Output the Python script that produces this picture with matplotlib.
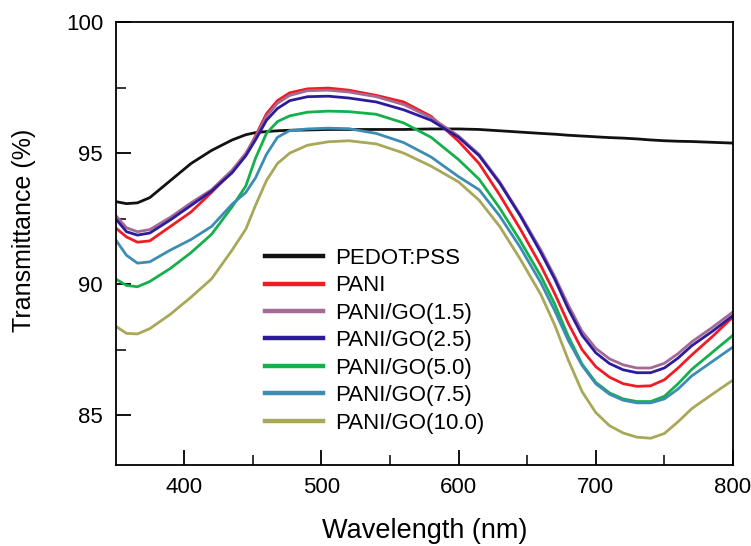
import numpy as np
import matplotlib
matplotlib.use("Agg")
import matplotlib.pyplot as plt

plt.rcParams['font.family'] = ['Liberation Sans', 'DejaVu Sans']

# wavelength grid (nm) used for all spectra
wl = [350, 358, 366, 375, 390, 405, 420, 435, 445, 452, 460, 468, 477, 490,
      505, 520, 540, 560, 580, 600, 615, 630, 645, 660, 670, 680, 690, 700,
      710, 720, 730, 740, 750, 760, 770, 785, 800]

# transmittance (%)
pedot = [93.15, 93.07, 93.1, 93.3, 93.95, 94.6, 95.1, 95.5, 95.7, 95.78, 95.82,
         95.85, 95.87, 95.88, 95.9, 95.9, 95.9, 95.9, 95.92, 95.92, 95.9, 95.85,
         95.8, 95.75, 95.72, 95.68, 95.65, 95.62, 95.59, 95.57, 95.54, 95.5,
         95.47, 95.45, 95.44, 95.41, 95.38]
pani = [92.15, 91.8, 91.6, 91.65, 92.2, 92.75, 93.5, 94.3, 94.95, 95.65, 96.5,
        97.0, 97.3, 97.45, 97.48, 97.4, 97.2, 96.95, 96.4, 95.45, 94.6, 93.4,
        92.1, 90.7, 89.65, 88.5, 87.5, 86.85, 86.45, 86.2, 86.1, 86.12, 86.35,
        86.8, 87.3, 88.0, 88.75]
go15 = [92.63, 92.15, 92.0, 92.08, 92.55, 93.1, 93.6, 94.35, 95.0, 95.6, 96.4,
        96.9, 97.2, 97.38, 97.4, 97.33, 97.15, 96.85, 96.35, 95.65, 94.95, 93.9,
        92.65, 91.3, 90.3, 89.2, 88.2, 87.55, 87.15, 86.92, 86.8, 86.8, 86.98,
        87.35, 87.8, 88.35, 88.94]
go25 = [92.5, 92.0, 91.87, 91.95, 92.45, 93.0, 93.55, 94.25, 94.9, 95.5, 96.25,
        96.7, 97.0, 97.15, 97.17, 97.1, 96.95, 96.65, 96.25, 95.6, 94.9, 93.85,
        92.6, 91.2, 90.2, 89.05, 88.05, 87.38, 86.97, 86.73, 86.62, 86.62, 86.8,
        87.18, 87.65, 88.2, 88.8]
go50 = [90.2, 89.95, 89.9, 90.1, 90.6, 91.2, 91.9, 92.95, 93.75, 94.8, 95.75,
        96.2, 96.42, 96.56, 96.6, 96.58, 96.48, 96.15, 95.6, 94.75, 94.0, 92.9,
        91.65, 90.3, 89.25, 88.0, 86.95, 86.25, 85.85, 85.62, 85.52, 85.52,
        85.72, 86.2, 86.75, 87.4, 88.05]
go75 = [91.7, 91.1, 90.8, 90.85, 91.3, 91.7, 92.2, 93.05, 93.5, 94.05, 94.95,
        95.6, 95.86, 95.92, 95.95, 95.93, 95.75, 95.4, 94.85, 94.1, 93.6, 92.6,
        91.4, 90.05, 89.0, 87.85, 86.9, 86.2, 85.8, 85.57, 85.47, 85.47, 85.62,
        86.0, 86.5, 87.05, 87.6]
go100 = [88.4, 88.12, 88.1, 88.3, 88.85, 89.5, 90.2, 91.3, 92.1, 93.0, 93.95,
         94.6, 95.0, 95.3, 95.43, 95.47, 95.35, 95.0, 94.5, 93.9, 93.2, 92.2,
         90.95, 89.6, 88.45, 87.1, 85.9, 85.1, 84.6, 84.32, 84.16, 84.12, 84.3,
         84.75, 85.25, 85.8, 86.34]

labels = ['PEDOT:PSS', 'PANI', 'PANI/GO(1.5)', 'PANI/GO(2.5)', 'PANI/GO(5.0)',
          'PANI/GO(7.5)', 'PANI/GO(10.0)']
colors = ['#111111', '#f01c24', '#a46a94', '#2c1c9c', '#14b04c', '#3c8cb4', '#a8a858']
series = [pedot, pani, go15, go25, go50, go75, go100]

fig = plt.figure(figsize=(7.51, 5.46), dpi=100)
ax = fig.add_axes([0.1538, 0.1484, 0.8222, 0.8113])

for y, c, lab in zip(series, colors, labels):
    ax.plot(wl, y, color=c, lw=2.0, label=lab)

ax.set_xlim(350, 800)
ax.set_ylim(83.1, 100)
ax.set_xticks([400, 500, 600, 700, 800])
ax.set_xticks([450, 550, 650, 750], minor=True)
ax.set_yticks([85, 90, 95, 100])
ax.set_yticks([87.5, 92.5, 97.5], minor=True)
ax.tick_params(which='major', direction='in', length=11, width=1.3,
               labelsize=16, pad=9, top=False, right=False)
ax.tick_params(which='minor', direction='in', length=7, width=1.1,
               top=False, right=False)
for s in ax.spines.values():
    s.set_linewidth(1.3)

ax.set_xlabel('Wavelength (nm)', fontsize=19.5, labelpad=14)
ax.set_ylabel('Transmittance (%)', fontsize=18, labelpad=16)
ax.yaxis.set_label_coords(-0.128, 0.53)

leg = ax.legend(loc='upper left', bbox_to_anchor=(0.242, 0.49), frameon=False,
                fontsize=16, handlelength=2.6, handletextpad=0.55,
                labelspacing=0.29, borderpad=0, borderaxespad=0)
for line in leg.get_lines():
    line.set_linewidth(3.2)

fig.savefig('out.png', dpi=100)
